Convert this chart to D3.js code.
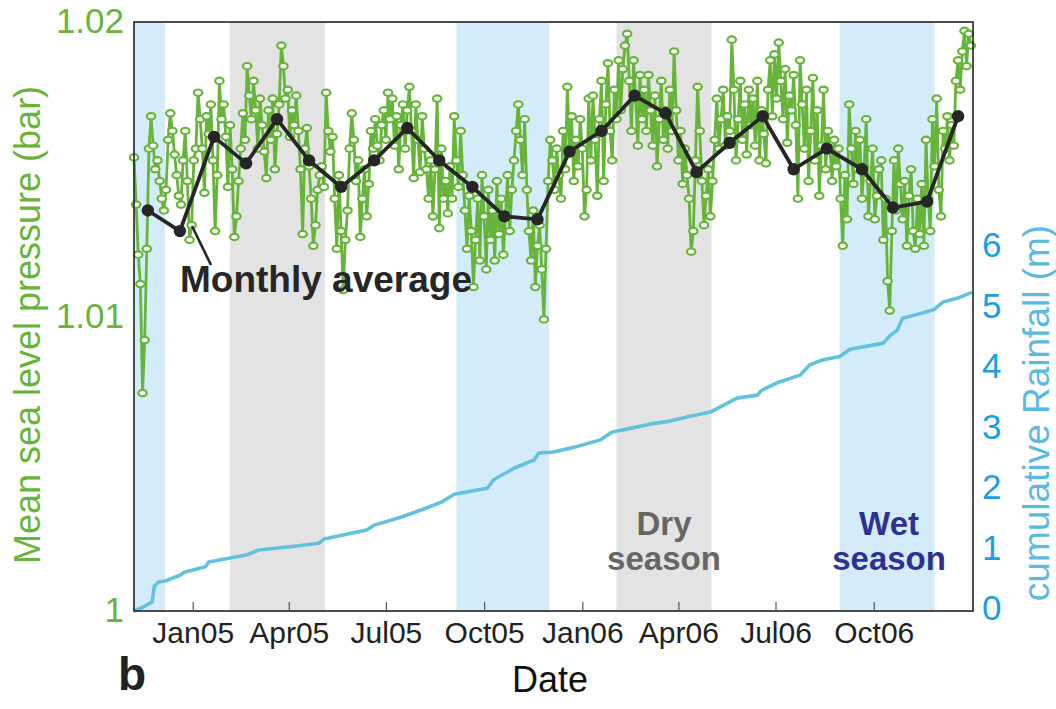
<!DOCTYPE html>
<html><head><meta charset="utf-8">
<script src="https://cdn.jsdelivr.net/npm/d3@7"></script>
<style>
body{margin:0;background:#fff}
svg{display:block}
text{font-family:"Liberation Sans",Arial,Helvetica,sans-serif}
</style>
</head><body>
<svg id="chart" width="1056" height="709"></svg>
<script>
// ---------------- data ----------------
const xDomain = ["2004-11-07", "2007-01-02"];

// daily-ish sea level pressure (bar), one value every 2 days from pressureStart
const pressureStart = "2004-11-07";
const pressureStepDays = 2;
const pressure = [
1.0154,1.0138,1.0121,1.0111,1.0074,1.0092,1.0123,1.0157,1.0168,1.0158,
1.0150,1.0153,1.0146,1.0140,1.0136,1.0143,1.0160,1.0169,1.0163,1.0155,
1.0148,1.0141,1.0138,1.0153,1.0163,1.0146,1.0126,1.0131,1.0153,1.0157,
1.0176,1.0167,1.0157,1.0142,1.0168,1.0162,1.0172,1.0153,1.0129,1.0148,
1.0180,1.0167,1.0172,1.0161,1.0144,1.0165,1.0150,1.0127,1.0134,1.0146,
1.0157,1.0169,1.0160,1.0185,1.0175,1.0167,1.0180,1.0170,1.0157,1.0174,
1.0165,1.0156,1.0147,1.0170,1.0160,1.0174,1.0150,1.0162,1.0172,1.0192,
1.0185,1.0174,1.0177,1.0161,1.0170,1.0165,1.0175,1.0163,1.0150,1.0128,
1.0157,1.0164,1.0151,1.0140,1.0124,1.0131,1.0143,1.0148,1.0151,1.0144,
1.0176,1.0163,1.0156,1.0161,1.0140,1.0123,1.0148,1.0129,1.0109,1.0126,
1.0136,1.0157,1.0169,1.0160,1.0146,1.0153,1.0127,1.0140,1.0150,1.0134,
1.0145,1.0163,1.0157,1.0167,1.0158,1.0153,1.0165,1.0170,1.0160,1.0176,
1.0167,1.0174,1.0158,1.0168,1.0150,1.0165,1.0172,1.0157,1.0170,1.0178,
1.0163,1.0147,1.0172,1.0160,1.0149,1.0168,1.0157,1.0150,1.0140,1.0153,
1.0134,1.0150,1.0174,1.0130,1.0157,1.0140,1.0146,1.0135,1.0151,1.0140,
1.0168,1.0153,1.0144,1.0163,1.0148,1.0136,1.0123,1.0141,1.0129,1.0110,
1.0126,1.0140,1.0119,1.0148,1.0134,1.0116,1.0143,1.0126,1.0136,1.0119,
1.0146,1.0128,1.0140,1.0121,1.0134,1.0148,1.0129,1.0143,1.0153,1.0163,
1.0172,1.0160,1.0148,1.0167,1.0143,1.0129,1.0119,1.0136,1.0110,1.0124,
1.0131,1.0116,1.0099,1.0123,1.0146,1.0160,1.0153,1.0143,1.0157,1.0148,
1.0140,1.0163,1.0150,1.0178,1.0157,1.0168,1.0146,1.0160,1.0151,1.0167,
1.0157,1.0134,1.0143,1.0174,1.0153,1.0175,1.0160,1.0141,1.0167,1.0180,
1.0146,1.0172,1.0186,1.0163,1.0153,1.0177,1.0167,1.0187,1.0170,1.0184,
1.0192,1.0196,1.0180,1.0163,1.0187,1.0174,1.0158,1.0182,1.0167,1.0177,
1.0163,1.0182,1.0170,1.0158,1.0175,1.0151,1.0167,1.0180,1.0160,1.0170,
1.0157,1.0177,1.0163,1.0190,1.0170,1.0153,1.0163,1.0145,1.0157,1.0148,
1.0140,1.0122,1.0129,1.0153,1.0178,1.0163,1.0146,1.0131,1.0141,1.0150,
1.0134,1.0146,1.0160,1.0174,1.0157,1.0167,1.0177,1.0158,1.0168,1.0163,
1.0194,1.0177,1.0153,1.0167,1.0180,1.0160,1.0172,1.0155,1.0177,1.0165,
1.0174,1.0158,1.0180,1.0153,1.0170,1.0162,1.0152,1.0177,1.0187,1.0168,
1.0189,1.0174,1.0193,1.0180,1.0167,1.0184,1.0159,1.0175,1.0170,1.0182,
1.0165,1.0140,1.0187,1.0172,1.0157,1.0177,1.0146,1.0163,1.0181,1.0153,
1.0170,1.0141,1.0158,1.0177,1.0150,1.0163,1.0157,1.0146,1.0160,1.0151,
1.0157,1.0140,1.0124,1.0148,1.0133,1.0172,1.0157,1.0145,1.0163,1.0150,
1.0160,1.0140,1.0151,1.0167,1.0134,1.0146,1.0157,1.0133,1.0141,1.0150,
1.0153,1.0126,1.0140,1.0112,1.0102,1.0129,1.0153,1.0136,1.0157,1.0145,
1.0133,1.0146,1.0124,1.0141,1.0150,1.0129,1.0123,1.0140,1.0128,1.0145,
1.0124,1.0160,1.0140,1.0129,1.0167,1.0151,1.0174,1.0143,1.0134,1.0163,
1.0157,1.0168,1.0153,1.0165,1.0158,1.0180,1.0187,1.0177,1.0190,1.0197,1.0185,1.0196,1.0192
];

// monthly average pressure (bar)
const monthlyDates = ["2004-11-20","2004-12-20","2005-01-21","2005-02-20","2005-03-21","2005-04-20",
  "2005-05-20","2005-06-20","2005-07-21","2005-08-20","2005-09-20","2005-10-20","2005-11-20",
  "2005-12-20","2006-01-19","2006-02-19","2006-03-20","2006-04-18","2006-05-19","2006-06-19",
  "2006-07-18","2006-08-18","2006-09-20","2006-10-19","2006-11-20","2006-12-19"];
const monthlyAvg = [1.0136,1.0129,1.0161,1.0152,1.0167,1.0153,1.0144,1.0153,1.0164,1.0153,1.0144,1.0134,
  1.0133,1.0156,1.0163,1.0175,1.0169,1.0149,1.0159,1.0168,1.0150,1.0157,1.0150,1.0137,1.0139,1.0168];

// cumulative rainfall (m): days since rainStart
const rainStart = "2004-11-07";
const rainDay = [0,7,17,19,23,30,44,47,67,70,94,106,117,150,173,178,197,218,225,250,269,288,300,331,337,
  356,375,379,393,413,437,448,465,483,502,521,540,552,565,584,588,602,624,633,645,661,671,702,708,715,
  720,739,749,758,771,785];
const rainM = [0,0.05,0.15,0.41,0.48,0.5,0.6,0.64,0.73,0.81,0.89,0.93,1.01,1.07,1.12,1.19,1.26,1.34,1.42,
  1.55,1.67,1.8,1.93,2.03,2.17,2.36,2.5,2.61,2.63,2.71,2.83,2.96,3.02,3.09,3.14,3.22,3.29,3.40,3.52,3.57,
  3.65,3.77,3.90,4.07,4.15,4.21,4.33,4.43,4.55,4.64,4.84,4.93,4.98,5.11,5.17,5.27];

// seasons
const wetSeasons = [["2004-11-07","2004-12-06"],["2005-09-05","2005-12-01"],["2006-08-30","2006-11-27"]];
const drySeasons = [["2005-02-05","2005-05-05"],["2006-02-02","2006-05-02"]];

// ticks
const xTickDates = ["2005-01-01","2005-04-01","2005-07-01","2005-10-01","2006-01-01","2006-04-01","2006-07-01","2006-10-01"];
const xTickLabels = ["Jan05","Apr05","Jul05","Oct05","Jan06","Apr06","Jul06","Oct06"];
const pTicks = [1, 1.01, 1.02];
const pTickLabels = ["1", "1.01", "1.02"];
const rTicks = [0, 1, 2, 3, 4, 5, 6];

// ---------------- drawing ----------------
const parse = d3.utcParse("%Y-%m-%d");
const svg = d3.select("#chart");
const M = {left: 134, right: 973, top: 22, bottom: 611};

const x = d3.scaleUtc().domain(xDomain.map(parse)).range([M.left, M.right]);
const yP = d3.scaleLinear().domain([1, 1.02]).range([M.bottom, M.top]);
const yR = d3.scaleLinear().domain([0, 9.74]).range([M.bottom, M.top]);

const GREEN = "#67b43b", RAIN = "#62c2dc", BLACK = "#262626";
const FONT = '"Liberation Sans",Arial,sans-serif';

// season bands
const bands = svg.append("g");
bands.selectAll("rect.wet").data(wetSeasons).join("rect").attr("class","wet")
  .attr("x", d => x(parse(d[0]))).attr("width", d => x(parse(d[1])) - x(parse(d[0])))
  .attr("y", M.top).attr("height", M.bottom - M.top).attr("fill", "#d4ebf9");
bands.selectAll("rect.dry").data(drySeasons).join("rect").attr("class","dry")
  .attr("x", d => x(parse(d[0]))).attr("width", d => x(parse(d[1])) - x(parse(d[0])))
  .attr("y", M.top).attr("height", M.bottom - M.top).attr("fill", "#e3e3e3");

// rainfall
const r0 = parse(rainStart);
const rainData = rainDay.map((d, i) => ({date: d3.utcDay.offset(r0, d), v: rainM[i]}));
svg.append("path").datum(rainData)
  .attr("fill", "none").attr("stroke", RAIN).attr("stroke-width", 3.6).attr("stroke-linejoin","round")
  .attr("d", d3.line().x(d => x(d.date)).y(d => yR(d.v)));

// pressure
const p0 = parse(pressureStart);
const pData = pressure.map((v, i) => ({date: d3.utcDay.offset(p0, i * pressureStepDays), v}));
svg.append("path").datum(pData)
  .attr("fill", "none").attr("stroke", GREEN).attr("stroke-width", 2.8).attr("stroke-linejoin","round")
  .attr("d", d3.line().x(d => x(d.date)).y(d => yP(d.v)));
svg.append("g").selectAll("ellipse").data(pData).join("ellipse")
  .attr("cx", d => x(d.date)).attr("cy", d => yP(d.v))
  .attr("rx", 4.2).attr("ry", 3.2)
  .attr("fill", "#fff").attr("stroke", GREEN).attr("stroke-width", 2.2);

// monthly average
const mData = monthlyDates.map((d, i) => ({date: parse(d), v: monthlyAvg[i]}));
svg.append("path").datum(mData)
  .attr("fill", "none").attr("stroke", BLACK).attr("stroke-width", 3.8).attr("stroke-linejoin","round")
  .attr("d", d3.line().x(d => x(d.date)).y(d => yP(d.v)));
svg.append("g").selectAll("circle").data(mData).join("circle")
  .attr("cx", d => x(d.date)).attr("cy", d => yP(d.v)).attr("r", 6.2).attr("fill", BLACK);

// frame
svg.append("rect").attr("x", M.left).attr("y", M.top)
  .attr("width", M.right - M.left).attr("height", M.bottom - M.top)
  .attr("fill", "none").attr("stroke", "#222").attr("stroke-width", 1.6);

// x axis
const xAxis = svg.append("g").attr("transform", `translate(0,${M.bottom})`)
  .call(d3.axisBottom(x).tickValues(xTickDates.map(parse))
    .tickFormat((d, i) => xTickLabels[i]).tickSize(-9).tickPadding(11));
xAxis.select(".domain").remove();
xAxis.selectAll(".tick line").attr("stroke", "#555").attr("stroke-width", 1.2);
xAxis.selectAll(".tick text").attr("font-size", 30).attr("fill", "#222").style("font-family", FONT);

// left axis
const lAxis = svg.append("g").attr("transform", `translate(${M.left},0)`)
  .call(d3.axisLeft(yP).tickValues(pTicks).tickFormat((d, i) => pTickLabels[i]).tickSize(0).tickPadding(10));
lAxis.select(".domain").remove();
lAxis.selectAll(".tick text").attr("font-size", 35).attr("fill", GREEN).attr("dy", "0.3em").style("font-family", FONT);

// right axis
const rAxis = svg.append("g").attr("transform", `translate(${M.right},0)`)
  .call(d3.axisRight(yR).tickValues(rTicks).tickFormat(d3.format("d")).tickSize(0).tickPadding(9));
rAxis.select(".domain").remove();
rAxis.selectAll(".tick text").attr("font-size", 35).attr("fill", "#1aa0e0").attr("dy", "0.25em").style("font-family", FONT);

// axis titles
svg.append("text").attr("transform", "translate(40,325) rotate(-90)")
  .attr("text-anchor", "middle").attr("font-size", 36).attr("fill", GREEN)
  .text("Mean sea level pressure (bar)");
svg.append("text").attr("transform", "translate(1049,413) rotate(-90)")
  .attr("text-anchor", "middle").attr("font-size", 37).attr("fill", "#5cb9e0")
  .text("cumulative Rainfall (m)");
svg.append("text").attr("x", 550).attr("y", 692).attr("text-anchor", "middle")
  .attr("font-size", 36).attr("fill", "#111").text("Date");
svg.append("text").attr("x", 118).attr("y", 690).attr("font-size", 46)
  .attr("font-weight", "bold").attr("fill", "#222").text("b");

// annotations
svg.append("line").attr("x1", 192).attr("y1", 226).attr("x2", 211).attr("y2", 265)
  .attr("stroke", BLACK).attr("stroke-width", 2.6);
svg.append("text").attr("x", 180).attr("y", 292).attr("font-size", 37)
  .attr("font-weight", "bold").attr("fill", BLACK).text("Monthly average");

const dryMid = x(new Date((parse(drySeasons[1][0]).getTime() + parse(drySeasons[1][1]).getTime()) / 2));
const wetMid = x(new Date((parse(wetSeasons[2][0]).getTime() + parse(wetSeasons[2][1]).getTime()) / 2));
const dry = svg.append("text").attr("text-anchor", "middle").attr("font-size", 33)
  .attr("font-weight", "bold").attr("fill", "#666");
dry.append("tspan").attr("x", dryMid).attr("y", 535).text("Dry");
dry.append("tspan").attr("x", dryMid).attr("y", 570).text("season");
const wet = svg.append("text").attr("text-anchor", "middle").attr("font-size", 33)
  .attr("font-weight", "bold").attr("fill", "#2e3192");
wet.append("tspan").attr("x", wetMid + 2).attr("y", 535).text("Wet");
wet.append("tspan").attr("x", wetMid + 2).attr("y", 570).text("season");
</script>
</body></html>
